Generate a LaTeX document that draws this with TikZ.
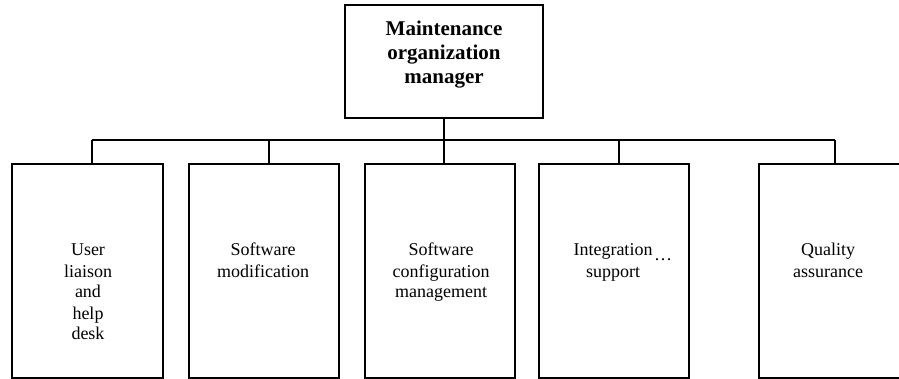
\documentclass[tikz,border=0pt]{standalone}
\usepackage{fontspec}
\setmainfont{Liberation Serif}
\begin{document}
\begin{tikzpicture}[x=1pt,y=-1pt,
  box/.style={draw=black,line width=1.4pt,inner sep=0pt},
  conn/.style={draw=black,line width=1.4pt},
  lbl/.style={inner sep=0pt,anchor=base,font=\fontsize{18}{21}\selectfont},
  hlbl/.style={inner sep=0pt,anchor=base,font=\fontsize{21}{24}\selectfont\bfseries}]
\useasboundingbox (0,0) rectangle (899,379);
\clip (0,0) rectangle (899,379);
% boxes
\node[box,minimum width=198pt,minimum height=113pt] (mgr) at (444,61.5) {};
\node[box,minimum width=151pt,minimum height=214pt] (b1) at (87.5,271) {};
\node[box,minimum width=150pt,minimum height=214pt] (b2) at (264,271) {};
\node[box,minimum width=150pt,minimum height=214pt] (b3) at (440,271) {};
\node[box,minimum width=150pt,minimum height=214pt] (b4) at (614,271) {};
\node[box,minimum width=150pt,minimum height=214pt] (b5) at (834,271) {};
% connectors
\coordinate (bus1) at (92,140);
\coordinate (bus5) at (835,140);
\draw[conn] (bus1) -- (bus5);
\draw[conn] (mgr.south) -- (b3.north -| mgr.south);
\draw[conn] (bus1) -- (bus1 |- b1.north);
\draw[conn] (269,140) -- (b2.north -| 269,0);
\draw[conn] (619,140) -- (b4.north -| 619,0);
\draw[conn] (bus5) -- (bus5 |- b5.north);
% texts
\node[hlbl] (t0) at (444,36) {\begin{tabular}[t]{@{}c@{}}Maintenance\\organization\\manager\end{tabular}};
\node[lbl] (t1) at (88,256) {\begin{tabular}[t]{@{}c@{}}User\\liaison\\and\\help\\desk\end{tabular}};
\node[lbl] (t2) at (263,256) {\begin{tabular}[t]{@{}c@{}}Software\\modification\end{tabular}};
\node[lbl] (t3) at (441,256) {\begin{tabular}[t]{@{}c@{}}Software\\configuration\\management\end{tabular}};
\node[lbl] (t4) at (613,256) {\begin{tabular}[t]{@{}c@{}}Integration\\support\end{tabular}};
\node[lbl,anchor=base west] (t4d) at (654,261) {…};
\node[lbl] (t5) at (828,256) {\begin{tabular}[t]{@{}c@{}}Quality\\assurance\end{tabular}};
\end{tikzpicture}
\end{document}
